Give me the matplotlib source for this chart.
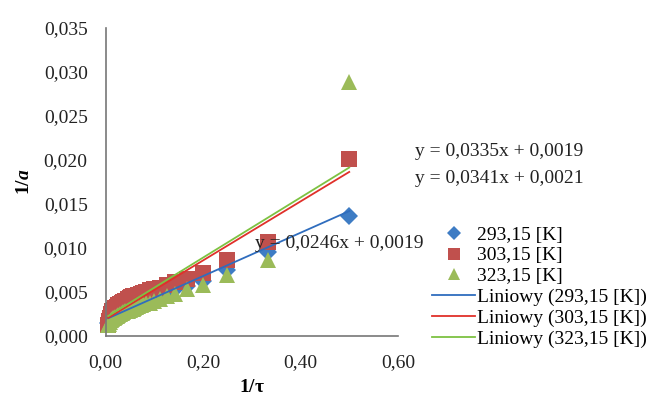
import matplotlib.pyplot as plt
from matplotlib.ticker import FuncFormatter

plt.rcParams['font.family'] = 'Liberation Serif'
plt.rcParams['mathtext.fontset'] = 'custom'
plt.rcParams['mathtext.bf'] = 'Liberation Serif:bold'
plt.rcParams['mathtext.bfit'] = 'Liberation Serif:bold:italic'
plt.rcParams['mathtext.rm'] = 'Liberation Serif'

# 1/tau values
x = [0.005, 0.0067, 0.0083, 0.01, 0.0125, 0.0143, 0.0167, 0.02, 0.0222, 0.025,
     0.0286, 0.0333, 0.0357, 0.04, 0.0455, 0.05, 0.0526, 0.0556, 0.0588, 0.0625,
     0.0667, 0.0714, 0.0769, 0.0833, 0.0909, 0.1, 0.111, 0.125, 0.143, 0.167,
     0.2, 0.25, 0.333, 0.5]

y_293 = [0.0015, 0.0017, 0.0019, 0.0020, 0.0022, 0.0023, 0.0024, 0.0026, 0.0027, 0.0028,
         0.0029, 0.0030, 0.0031, 0.0032, 0.0033, 0.0034, 0.0035, 0.0036, 0.0036, 0.0037,
         0.0038, 0.0039, 0.0040, 0.0041, 0.0043, 0.0045, 0.0047, 0.0050, 0.0053, 0.0057,
         0.0063, 0.0075, 0.0096, 0.0136]
y_303 = [0.0012, 0.0017, 0.0021, 0.0025, 0.0028, 0.0029, 0.0030, 0.0032, 0.0033, 0.0035,
         0.0036, 0.0038, 0.0039, 0.0040, 0.0042, 0.0043, 0.0044, 0.0045, 0.0045, 0.0046,
         0.0047, 0.0048, 0.0049, 0.0050, 0.0052, 0.0053, 0.0055, 0.0058, 0.0061, 0.0065,
         0.0072, 0.0086, 0.0107, 0.0201]
y_323 = [0.0012, 0.0014, 0.0016, 0.0018, 0.0019, 0.0020, 0.0021, 0.0022, 0.0023, 0.0024,
         0.0025, 0.0026, 0.0027, 0.0028, 0.0029, 0.0030, 0.0031, 0.0031, 0.0032, 0.0033,
         0.0034, 0.0035, 0.0036, 0.0037, 0.0038, 0.0040, 0.0042, 0.0045, 0.0048, 0.0053,
         0.0058, 0.0069, 0.0086, 0.0289]

labels = ['293,15 [K]', '303,15 [K]', '323,15 [K]']
slopes = [0.0246, 0.0335, 0.0341]
intercepts = [0.0019, 0.0019, 0.0021]
eq_text = ['y = 0,0246x + 0,0019', 'y = 0,0335x + 0,0019', 'y = 0,0341x + 0,0021']

marker_colors = ['#3E7CC4', '#C0504D', '#9BBB59']
line_colors = ['#2F6DBE', '#E0302A', '#7DC242']
markers = ['D', 's', '^']
msizes = [9, 11.5, 11]

fig = plt.figure(figsize=(6.61, 4.01), dpi=100)
ax = fig.add_axes([0.160, 0.162, 0.442, 0.768])

series = [y_293, y_303, y_323]
handles_pts = []
for ys, c, m, ms, lab in zip(series, marker_colors, markers, msizes, labels):
    h, = ax.plot(x, ys, linestyle='none', marker=m, markersize=ms, color=c,
                 markeredgewidth=0, label=lab, clip_on=False)
    handles_pts.append(h)

handles_lines = []
for s, b, c, lab in zip(slopes, intercepts, line_colors, labels):
    xs = [min(x), max(x)]
    ys = [s * v + b for v in xs]
    h, = ax.plot(xs, ys, color=c, lw=1.3, label='Liniowy (' + lab + ')')
    handles_lines.append(h)

ax.set_xlim(0, 0.6)
ax.set_ylim(0, 0.035)
ax.set_xticks([0, 0.2, 0.4, 0.6])
ax.set_yticks([0, 0.005, 0.010, 0.015, 0.020, 0.025, 0.030, 0.035])
ax.xaxis.set_major_formatter(FuncFormatter(lambda v, p: f'{v:.2f}'.replace('.', ',')))
ax.yaxis.set_major_formatter(FuncFormatter(lambda v, p: f'{v:.3f}'.replace('.', ',')))
ax.tick_params(length=0, labelsize=14, colors='#222222')
ax.tick_params(axis='y', pad=13)
ax.tick_params(axis='x', pad=13)
for side in ['top', 'right']:
    ax.spines[side].set_visible(False)
for side in ['left', 'bottom']:
    ax.spines[side].set_color('#777777')
    ax.spines[side].set_linewidth(1.2)

ax.set_xlabel(r'$\mathbf{1/\tau}$', fontsize=14, labelpad=6)
ax.set_ylabel(r'$\mathbf{1/}\mathbfit{a}$', fontsize=14, labelpad=8)

fig.text(0.628, 0.623, eq_text[1], fontsize=14, va='center', color='#222222')
fig.text(0.628, 0.554, eq_text[2], fontsize=14, va='center', color='#222222')
fig.text(0.386, 0.392, eq_text[0], fontsize=14, va='center', color='#222222')

fig.legend(handles=handles_pts + handles_lines, loc='upper left',
           bbox_to_anchor=(0.654, 0.436), frameon=False, fontsize=14,
           labelspacing=0.16, handlelength=2.2, handletextpad=0.1,
           markerscale=0.8, borderpad=0, borderaxespad=0)

fig.savefig('out.png', dpi=100)
